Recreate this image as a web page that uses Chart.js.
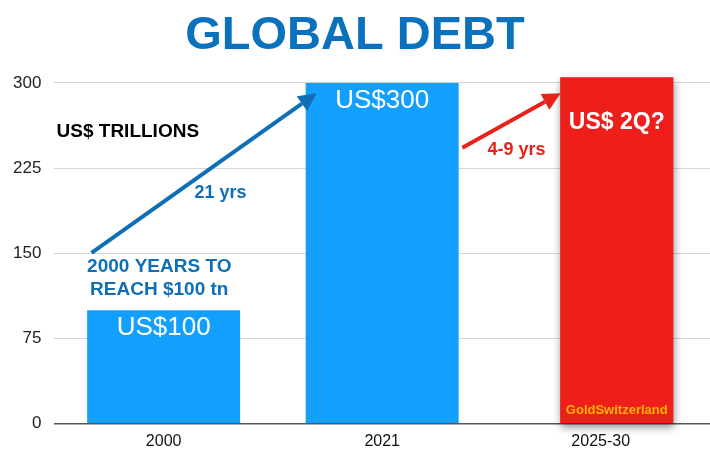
<!DOCTYPE html>
<html>
<head>
<meta charset="utf-8">
<script src="https://cdn.jsdelivr.net/npm/chart.js@4/dist/chart.umd.min.js"></script>
<style>
html,body{margin:0;padding:0;background:#fff;}
#wrap{width:710px;height:455px;}
</style>
</head>
<body>
<div id="wrap"><canvas id="c"></canvas></div>
<script>
// ---- data ----
const categories = ["2000", "2021", "2025-30"];
const actualDebt = [100, 300, null];        // US$ trillions
const projectedDebt = [null, null, 305];    // projected (US$ 2 quadrillion?)
const spacer = [null, null, null];          // empty group slot (shifts the projected bar right)
const yTicks = [0, 75, 150, 225, 300];
const barLabels = ["US$100", "US$300", "US$ 2Q?"];

// ---- annotations (data coordinates: x = category index, y = value) ----
const notes = [
  {text: "US$ TRILLIONS", x: -0.49, y: 257, color: "#000000", size: 19, align: "left"},
  {text: "2000 YEARS TO", x: -0.02, y: 138, color: "#0f6fb6", size: 19, align: "center"},
  {text: "REACH $100 tn", x: -0.02, y: 118, color: "#0f6fb6", size: 19, align: "center"},
  {text: "21 yrs", x: 0.26, y: 203, color: "#0f6fb6", size: 18, align: "center"},
  {text: "4-9 yrs", x: 1.615, y: 241, color: "#e8231c", size: 18, align: "center"}
];
const arrows = [
  {x0: -0.33, y0: 150.5, x1: 0.70, y1: 291, color: "#0f6fb6"},
  {x0: 1.367, y0: 243, x1: 1.817, y1: 291, color: "#e8231c"}
];

const FONT = "'Liberation Sans', Arial, Helvetica, sans-serif";

const shadowPlugin = {
  id: "shadow",
  beforeDatasetDraw(chart, args) {
    if (args.index === 2) {
      const ctx = chart.ctx;
      ctx.save();
      ctx.shadowColor = "rgba(0,0,0,0.45)";
      ctx.shadowBlur = 8;
      ctx.shadowOffsetX = 1;
      ctx.shadowOffsetY = 4;
    }
  },
  afterDatasetDraw(chart, args) {
    if (args.index === 2) chart.ctx.restore();
  }
};

const annotPlugin = {
  id: "annot",
  afterDatasetsDraw(chart) {
    const ctx = chart.ctx;
    const xs = chart.scales.x, ys = chart.scales.y;
    const px = v => xs.getPixelForValue(0) + v * (xs.getPixelForValue(1) - xs.getPixelForValue(0));
    ctx.save();
    // bar labels
    const m0 = chart.getDatasetMeta(0), m2 = chart.getDatasetMeta(2);
    ctx.textAlign = "center";
    ctx.textBaseline = "middle";
    ctx.fillStyle = "#ffffff";
    ctx.font = "26px " + FONT;
    [0, 1].forEach(i => {
      const el = m0.data[i];
      ctx.fillText(barLabels[i], el.x, el.y + 18);
    });
    const r = m2.data[2];
    ctx.font = "bold 23px " + FONT;
    ctx.fillText(barLabels[2], r.x, r.y + 45);
    ctx.font = "bold 13px " + FONT;
    ctx.fillStyle = "#f7b500";
    ctx.fillText("GoldSwitzerland", r.x, ys.getPixelForValue(12));
    // notes
    notes.forEach(n => {
      ctx.font = "bold " + n.size + "px " + FONT;
      ctx.fillStyle = n.color;
      ctx.textAlign = n.align;
      ctx.fillText(n.text, px(n.x), ys.getPixelForValue(n.y));
    });
    // arrows
    arrows.forEach(a => {
      const x0 = px(a.x0), y0 = ys.getPixelForValue(a.y0);
      const x1 = px(a.x1), y1 = ys.getPixelForValue(a.y1);
      const ang = Math.atan2(y1 - y0, x1 - x0);
      const hl = 18, hw = 9;
      const bx = x1 - hl * Math.cos(ang), by = y1 - hl * Math.sin(ang);
      ctx.strokeStyle = a.color;
      ctx.fillStyle = a.color;
      ctx.lineWidth = 4;
      ctx.beginPath();
      ctx.moveTo(x0, y0);
      ctx.lineTo(bx, by);
      ctx.stroke();
      ctx.beginPath();
      ctx.moveTo(x1, y1);
      ctx.lineTo(bx + hw * Math.sin(ang), by - hw * Math.cos(ang));
      ctx.lineTo(bx - hw * Math.sin(ang), by + hw * Math.cos(ang));
      ctx.closePath();
      ctx.fill();
    });
    ctx.restore();
  }
};

new Chart(document.getElementById("c"), {
  type: "bar",
  data: {
    labels: categories,
    datasets: [
      {data: actualDebt, backgroundColor: "#139ffd", barPercentage: 0.7, categoryPercentage: 1, grouped: false},
      {data: spacer, backgroundColor: "rgba(0,0,0,0)", grouped: true, categoryPercentage: 0.2936, barPercentage: 3.53},
      {data: projectedDebt, backgroundColor: "#ee1f1a", grouped: true, categoryPercentage: 0.2936, barPercentage: 3.53, clip: false}
    ]
  },
  options: {
    responsive: true,
    maintainAspectRatio: false,
    animation: false,
    devicePixelRatio: 1,
    layout: {padding: {left: 0, right: 0, top: 0, bottom: -4}},
    plugins: {
      legend: {display: false},
      tooltip: {enabled: false},
      title: {
        display: true,
        text: "GLOBAL DEBT",
        color: "#0a72bd",
        font: {family: FONT, size: 47, weight: "bold"},
        padding: {top: 8, bottom: 18.5}
      }
    },
    scales: {
      x: {
        grid: {display: false, drawTicks: false},
        border: {display: false},
        ticks: {color: "#111", font: {family: FONT, size: 16}, padding: 8}
      },
      y: {
        min: 0, max: 300,
        afterBuildTicks: ax => { ax.ticks = yTicks.map(v => ({value: v})); },
        grid: {
          color: c => c.tick && c.tick.value === 0 ? "#555555" : "#d6d6d6",
          lineWidth: c => c.tick && c.tick.value === 0 ? 1.5 : 1,
          drawTicks: false
        },
        border: {display: false},
        ticks: {color: "#222", font: {family: FONT, size: 17}, padding: 13}
      }
    }
  },
  plugins: [shadowPlugin, annotPlugin]
});
</script>
</body>
</html>
